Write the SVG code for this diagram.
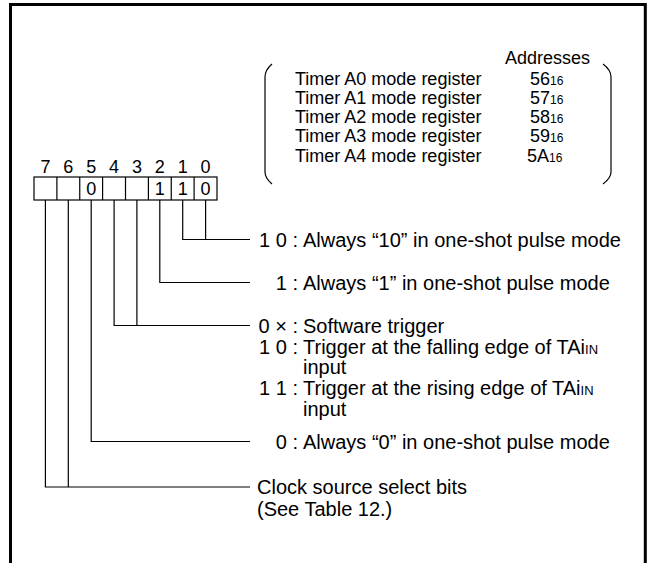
<svg xmlns="http://www.w3.org/2000/svg" width="648" height="563" viewBox="0 0 648 563">
<style>
text{font-family:"Liberation Sans",Arial,sans-serif;font-size:18px;fill:#000}
.lbl text{font-size:20px}
.sub{font-size:12px}
.lbl .sub{font-size:13px}
.ln{stroke:#000;stroke-width:1.2;fill:none}
.cell{stroke:#000;stroke-width:1.2;fill:#fff}
.d{text-anchor:middle}
.e{text-anchor:end}
</style>
<rect width="648" height="563" fill="#fff"/>
<path d="M10.5 563 V4.5 H645.3 V563" fill="none" stroke="#000" stroke-width="3"/>

<g id="address-table">
<path class="ln" d="M272 64 Q265 70 265 77 V172 Q265 178 272 184"/>
<path class="ln" d="M603 64 Q611 70 611 77 V172 Q611 178 603 184"/>
<text x="505" y="64">Addresses</text>
<text x="295" y="84.5">Timer A0 mode register</text>
<text x="295" y="103.8">Timer A1 mode register</text>
<text x="295" y="123">Timer A2 mode register</text>
<text x="295" y="142.3">Timer A3 mode register</text>
<text x="295" y="161.5">Timer A4 mode register</text>
<text x="530" y="84.5">56<tspan class="sub">16</tspan></text>
<text x="530" y="103.8">57<tspan class="sub">16</tspan></text>
<text x="530" y="123">58<tspan class="sub">16</tspan></text>
<text x="530" y="142.3">59<tspan class="sub">16</tspan></text>
<text x="527" y="161.5">5A<tspan class="sub">16</tspan></text>
</g>

<g id="register">
<rect class="cell" x="34" y="177" width="183" height="23"/>
<path class="ln" d="M56.9 177V200M79.75 177V200M102.6 177V200M125.5 177V200M148.4 177V200M171.25 177V200M194.1 177V200"/>
<text class="d" x="45.4" y="173">7</text>
<text class="d" x="68.3" y="173">6</text>
<text class="d" x="91.2" y="173">5</text>
<text class="d" x="114.1" y="173">4</text>
<text class="d" x="136.9" y="173">3</text>
<text class="d" x="159.8" y="173">2</text>
<text class="d" x="182.7" y="173">1</text>
<text class="d" x="205.6" y="173">0</text>
<text class="d" x="91.2" y="195">0</text>
<text class="d" x="159.8" y="195">1</text>
<text class="d" x="182.7" y="195">1</text>
<text class="d" x="205.6" y="195">0</text>
</g>

<g id="connectors">
<path class="ln" d="M205.6 200V239.5M182.7 200V239.5H250"/>
<path class="ln" d="M159.8 200V282.5H250"/>
<path class="ln" d="M136.9 200V325.5M114.1 200V325.5H250"/>
<path class="ln" d="M91.2 200V441.5H250"/>
<path class="ln" d="M68.3 200V487M45.4 200V487H250"/>
</g>

<g id="bits-1-0" class="lbl">
<text class="e" x="298" y="246.5">1 0 :</text>
<text x="303" y="246.5">Always “10” in one-shot pulse mode</text>
</g>
<g id="bit-2" class="lbl">
<text class="e" x="298" y="289.5">1 :</text>
<text x="303" y="289.5">Always “1” in one-shot pulse mode</text>
</g>
<g id="bits-4-3" class="lbl">
<text class="e" x="298" y="332.5">0 × :</text>
<text x="303" y="332.5">Software trigger</text>
<text class="e" x="298" y="353.5">1 0 :</text>
<text x="303" y="353.5">Trigger at the falling edge of TAi<tspan class="sub">IN</tspan></text>
<text x="303" y="374">input</text>
<text class="e" x="298" y="395">1 1 :</text>
<text x="303" y="395">Trigger at the rising edge of TAi<tspan class="sub">IN</tspan></text>
<text x="303" y="415.5">input</text>
</g>
<g id="bit-5" class="lbl">
<text class="e" x="298" y="448.5">0 :</text>
<text x="303" y="448.5">Always “0” in one-shot pulse mode</text>
</g>
<g id="bits-7-6" class="lbl">
<text x="257" y="494">Clock source select bits</text>
<text x="257" y="516">(See Table 12.)</text>
</g>
</svg>
